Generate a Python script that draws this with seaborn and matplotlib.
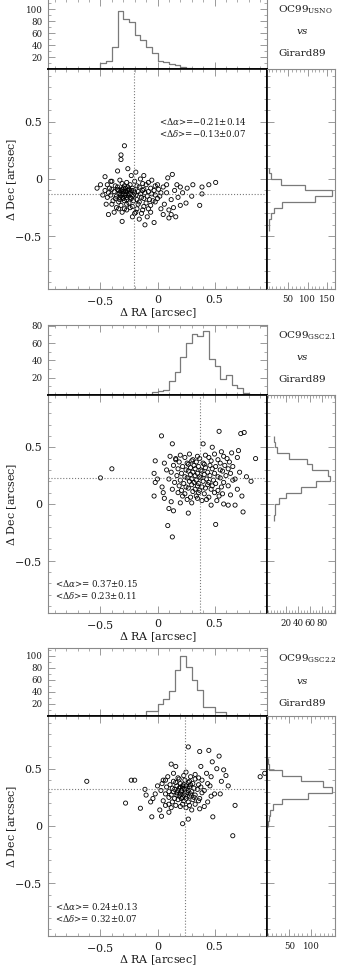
import matplotlib.pyplot as plt
import numpy as np
import seaborn as sns
from matplotlib.ticker import MultipleLocator, NullFormatter

# ---------------------------------------------------------------- data
# panel 1: OC99 (USNO) vs Girard89
usno_pts = [
    (-0.29, 0.29), (-0.32, 0.21), (-0.32, 0.17), (-0.35, 0.07), (-0.26, 0.09),
    (-0.19, 0.06), (-0.23, 0.03), (-0.12, 0.03), (0.09, 0.01), (0.13, 0.04),
    (0.51, -0.03), (0.45, -0.05), (0.39, -0.07), (0.31, -0.05), (0.20, -0.07),
    (0.39, -0.13), (0.30, -0.15), (0.25, -0.21), (0.37, -0.23), (0.20, -0.23),
    (0.16, -0.33), (0.10, -0.34), (0.12, -0.31), (-0.03, -0.38), (-0.11, -0.40),
    (-0.16, -0.35), (-0.22, -0.33), (-0.31, -0.37), (-0.43, -0.31), (-0.38, -0.29),
    (-0.45, -0.22), (-0.53, -0.08), (-0.50, -0.05), (-0.46, 0.02), (0.05, -0.07),
    (0.08, -0.12), (0.15, -0.10), (0.12, -0.18), (0.03, -0.26), (-0.06, -0.29),
    (0.06, -0.22), (0.17, -0.05), (0.22, -0.12), (0.10, -0.27), (-0.27, -0.27),
    (-0.34, -0.26), (-0.48, -0.14), (-0.41, -0.02), (-0.15, 0.00), (-0.08, -0.03),
    (0.00, -0.05), (0.02, -0.15), (-0.02, -0.20), (0.14, -0.25), (0.08, -0.05),
    (0.18, -0.16), (0.26, -0.08), (0.05, -0.31), (-0.09, -0.33), (-0.19, -0.29),
    (-0.40, -0.02), (-0.33, -0.01), (-0.27, -0.03), (-0.20, -0.02), (-0.13, -0.04),
    (-0.05, -0.01), (-0.44, -0.05), (-0.37, -0.06), (-0.31, -0.04), (-0.29, -0.06),
    (-0.24, -0.05), (-0.18, -0.06), (-0.10, -0.05), (-0.02, -0.06), (-0.42, -0.08),
    (-0.35, -0.07), (-0.30, -0.08), (-0.26, -0.07), (-0.22, -0.08), (-0.16, -0.07),
    (-0.12, -0.09), (-0.06, -0.08), (0.01, -0.09), (-0.46, -0.10), (-0.40, -0.09),
    (-0.34, -0.10), (-0.31, -0.09), (-0.28, -0.11), (-0.25, -0.09), (-0.21, -0.10),
    (-0.17, -0.11), (-0.13, -0.10), (-0.08, -0.11), (-0.03, -0.10), (-0.43, -0.12),
    (-0.38, -0.11), (-0.33, -0.12), (-0.30, -0.13), (-0.27, -0.12), (-0.24, -0.13),
    (-0.20, -0.12), (-0.15, -0.13), (-0.11, -0.12), (-0.05, -0.13), (0.03, -0.12),
    (-0.41, -0.14), (-0.36, -0.15), (-0.32, -0.14), (-0.29, -0.15), (-0.26, -0.14),
    (-0.22, -0.15), (-0.19, -0.14), (-0.14, -0.16), (-0.09, -0.15), (-0.02, -0.14),
    (-0.44, -0.16), (-0.37, -0.17), (-0.33, -0.16), (-0.30, -0.17), (-0.27, -0.16),
    (-0.23, -0.17), (-0.18, -0.18), (-0.12, -0.17), (-0.07, -0.18), (0.00, -0.17),
    (-0.39, -0.19), (-0.34, -0.20), (-0.29, -0.19), (-0.25, -0.21), (-0.21, -0.19),
    (-0.16, -0.20), (-0.10, -0.21), (-0.04, -0.19), (-0.40, -0.22), (-0.32, -0.23),
    (-0.27, -0.22), (-0.22, -0.24), (-0.17, -0.22), (-0.12, -0.24), (-0.06, -0.23),
    (-0.36, -0.25), (-0.29, -0.26), (-0.24, -0.25), (-0.18, -0.26), (-0.13, -0.27),
    (-0.08, -0.26), (-0.31, -0.29), (-0.20, -0.30), (-0.14, -0.30), (-0.32, -0.10),
    (-0.28, -0.14), (-0.30, -0.11), (-0.26, -0.10), (-0.34, -0.13), (-0.28, -0.08),
    (-0.31, -0.16), (-0.25, -0.12), (-0.23, -0.10), (-0.35, -0.09), (-0.29, -0.13),
    (-0.27, -0.18), (-0.33, -0.18), (-0.24, -0.16), (-0.21, -0.14),
]
usno_ra_edges = [-0.55, -0.50, -0.45, -0.40, -0.35, -0.30, -0.25, -0.20, -0.15, -0.10,
                 -0.05, 0.00, 0.05, 0.10, 0.15, 0.20, 0.25, 0.30, 0.35]
usno_ra_counts = [0, 10, 13, 36, 97, 83, 78, 57, 49, 36, 27, 14, 11, 8, 6, 3, 1, 0]
usno_dec_edges = [-0.45, -0.40, -0.35, -0.30, -0.25, -0.20, -0.15, -0.10, -0.05, 0.00,
                  0.05, 0.10]
usno_dec_counts = [0, 2, 7, 13, 35, 118, 162, 92, 31, 7, 0]
usno_mean = (-0.21, -0.13)
usno_stats = [r"<$\Delta\alpha$>=$-$0.21$\pm$0.14", r"<$\Delta\delta$>=$-$0.13$\pm$0.07"]

# panel 2: OC99 (GSC2.1) vs Girard89
gsc21_pts = [
    (-0.50, 0.23), (-0.40, 0.31), (0.035, 0.60), (0.13, 0.53), (-0.02, 0.38),
    (-0.03, 0.27), (-0.03, 0.07), (-0.02, 0.19), (0.09, -0.19), (0.13, -0.29),
    (0.10, -0.04), (0.14, -0.06), (0.27, -0.08), (0.51, -0.18), (0.54, 0.64),
    (0.73, 0.62), (0.76, 0.63), (0.86, 0.40), (0.82, 0.20), (0.75, -0.07),
    (0.74, 0.07), (0.71, 0.47), (0.68, -0.01), (0.62, -0.01), (0.58, 0.00),
    (0.40, 0.53), (0.48, 0.50), (0.56, 0.46), (0.65, 0.45), (0.70, 0.41),
    (0.66, 0.33), (0.72, 0.28), (0.68, 0.22), (0.78, 0.24), (0.70, 0.13),
    (0.64, 0.08), (0.05, 0.10), (0.04, 0.15), (0.00, 0.22), (0.08, 0.30),
    (0.06, 0.36), (0.11, 0.42), (0.16, 0.39), (0.12, 0.02), (0.20, 0.01),
    (0.30, 0.01), (0.39, 0.03), (0.47, -0.01), (0.52, 0.03), (0.06, 0.05),
    (0.20, 0.43), (0.28, 0.44), (0.35, 0.42), (0.42, 0.43), (0.50, 0.44),
    (0.58, 0.42), (0.16, 0.40), (0.24, 0.41), (0.31, 0.39), (0.37, 0.40),
    (0.45, 0.41), (0.53, 0.39), (0.61, 0.40), (0.19, 0.37), (0.26, 0.36),
    (0.30, 0.38), (0.34, 0.37), (0.40, 0.36), (0.47, 0.38), (0.55, 0.36),
    (0.63, 0.37), (0.14, 0.34), (0.22, 0.33), (0.27, 0.35), (0.32, 0.34),
    (0.36, 0.33), (0.41, 0.35), (0.46, 0.34), (0.51, 0.33), (0.59, 0.34),
    (0.18, 0.31), (0.25, 0.30), (0.29, 0.32), (0.33, 0.31), (0.38, 0.30),
    (0.42, 0.32), (0.48, 0.31), (0.55, 0.30), (0.62, 0.31), (0.12, 0.28),
    (0.21, 0.27), (0.27, 0.29), (0.31, 0.28), (0.35, 0.27), (0.39, 0.29),
    (0.44, 0.28), (0.50, 0.27), (0.57, 0.29), (0.64, 0.27), (0.17, 0.25),
    (0.24, 0.24), (0.29, 0.26), (0.33, 0.25), (0.37, 0.24), (0.41, 0.26),
    (0.46, 0.25), (0.53, 0.24), (0.60, 0.25), (0.10, 0.22), (0.20, 0.21),
    (0.26, 0.23), (0.30, 0.22), (0.34, 0.21), (0.38, 0.23), (0.43, 0.22),
    (0.49, 0.21), (0.55, 0.23), (0.66, 0.21), (0.15, 0.19), (0.23, 0.18),
    (0.28, 0.20), (0.32, 0.19), (0.36, 0.18), (0.40, 0.20), (0.45, 0.19),
    (0.51, 0.18), (0.58, 0.19), (0.19, 0.16), (0.25, 0.15), (0.30, 0.17),
    (0.35, 0.16), (0.39, 0.15), (0.44, 0.17), (0.48, 0.16), (0.56, 0.15),
    (0.62, 0.16), (0.13, 0.13), (0.21, 0.12), (0.27, 0.14), (0.33, 0.13),
    (0.37, 0.12), (0.42, 0.14), (0.47, 0.13), (0.53, 0.12), (0.18, 0.10),
    (0.24, 0.09), (0.31, 0.11), (0.36, 0.10), (0.41, 0.09), (0.50, 0.10),
    (0.57, 0.09), (0.22, 0.07), (0.29, 0.06), (0.34, 0.07), (0.45, 0.06),
    (0.54, 0.07), (0.26, 0.04), (0.35, 0.05), (0.43, 0.04),
]
gsc21_ra_edges = [-0.10, -0.05, 0.00, 0.05, 0.10, 0.15, 0.20, 0.25, 0.30, 0.35, 0.40,
                  0.45, 0.50, 0.55, 0.60, 0.65, 0.70, 0.75, 0.80, 0.85]
gsc21_ra_counts = [0, 3, 5, 6, 16, 27, 44, 60, 71, 68, 74, 42, 33, 19, 23, 12, 8, 2, 0]
gsc21_dec_edges = [-0.15, -0.10, -0.05, 0.00, 0.05, 0.10, 0.15, 0.20, 0.25, 0.30, 0.35,
                   0.40, 0.45, 0.50, 0.55, 0.60]
gsc21_dec_counts = [0, 1, 2, 8, 20, 45, 70, 92, 90, 62, 55, 25, 5, 2, 0]
gsc21_mean = (0.37, 0.23)
gsc21_stats = [r"<$\Delta\alpha$>= 0.37$\pm$0.15", r"<$\Delta\delta$>= 0.23$\pm$0.11"]

# panel 3: OC99 (GSC2.2) vs Girard89
gsc22_pts = [
    (-0.62, 0.39), (-0.28, 0.20), (-0.15, 0.155), (-0.05, 0.08), (0.035, 0.085),
    (-0.23, 0.40), (-0.20, 0.40), (0.22, 0.02), (0.27, 0.06), (0.27, 0.69),
    (0.37, 0.65), (0.45, 0.66), (0.54, 0.61), (0.66, -0.085), (0.68, 0.18),
    (0.485, 0.08), (0.90, 0.43), (0.94, 0.46), (0.12, 0.54), (0.16, 0.52),
    (0.38, 0.52), (0.48, 0.56), (0.52, 0.50), (0.58, 0.49), (0.60, 0.44),
    (0.56, 0.39), (0.62, 0.35), (0.55, 0.28), (0.47, 0.26), (0.41, 0.17),
    (0.37, 0.15), (0.30, 0.14), (0.12, 0.16), (0.07, 0.18), (-0.04, 0.24),
    (-0.06, 0.21), (-0.02, 0.28), (-0.10, 0.27), (-0.11, 0.32), (0.00, 0.35),
    (0.05, 0.40), (0.02, 0.14), (0.10, 0.12),
    (0.14, 0.46), (0.25, 0.47), (0.33, 0.45), (0.43, 0.46), (0.09, 0.43),
    (0.18, 0.42), (0.23, 0.44), (0.29, 0.43), (0.36, 0.42), (0.47, 0.43),
    (0.07, 0.40), (0.14, 0.39), (0.19, 0.41), (0.24, 0.40), (0.28, 0.39),
    (0.33, 0.41), (0.39, 0.40), (0.04, 0.37), (0.11, 0.36), (0.16, 0.38),
    (0.20, 0.37), (0.23, 0.36), (0.27, 0.38), (0.31, 0.37), (0.36, 0.36),
    (0.44, 0.37), (0.08, 0.34), (0.13, 0.33), (0.17, 0.35), (0.20, 0.34),
    (0.22, 0.33), (0.25, 0.35), (0.28, 0.34), (0.32, 0.33), (0.38, 0.34),
    (0.46, 0.35), (0.03, 0.31), (0.10, 0.30), (0.15, 0.32), (0.18, 0.31),
    (0.21, 0.30), (0.24, 0.32), (0.27, 0.31), (0.30, 0.30), (0.35, 0.32),
    (0.41, 0.31), (0.07, 0.28), (0.12, 0.27), (0.17, 0.29), (0.20, 0.28),
    (0.23, 0.27), (0.26, 0.29), (0.29, 0.28), (0.33, 0.27), (0.39, 0.29),
    (0.50, 0.28), (0.10, 0.25), (0.15, 0.24), (0.19, 0.26), (0.22, 0.25),
    (0.25, 0.24), (0.28, 0.26), (0.32, 0.25), (0.37, 0.24), (0.05, 0.22),
    (0.13, 0.21), (0.18, 0.23), (0.23, 0.22), (0.27, 0.21), (0.31, 0.23),
    (0.36, 0.22), (0.44, 0.21), (0.10, 0.19), (0.16, 0.18), (0.22, 0.19),
    (0.28, 0.18), (0.33, 0.19), (0.20, 0.17), (0.25, 0.16), (0.21, 0.31),
    (0.24, 0.29), (0.19, 0.33), (0.26, 0.33), (0.22, 0.35), (0.17, 0.27),
    (0.29, 0.36), (0.14, 0.30), (0.26, 0.26), (0.21, 0.24),
]
gsc22_ra_edges = [-0.15, -0.10, -0.05, 0.00, 0.05, 0.10, 0.15, 0.20, 0.25, 0.30, 0.35,
                  0.40, 0.45, 0.50, 0.55, 0.60, 0.65]
gsc22_ra_counts = [0, 9, 9, 20, 28, 42, 77, 100, 81, 60, 43, 15, 15, 7, 7, 0]
gsc22_dec_edges = [-0.01, 0.04, 0.09, 0.14, 0.19, 0.24, 0.29, 0.34, 0.39, 0.44, 0.49,
                   0.54, 0.59]
gsc22_dec_counts = [0, 2, 4, 12, 32, 94, 148, 129, 78, 32, 3, 0]
gsc22_mean = (0.24, 0.32)
gsc22_stats = [r"<$\Delta\alpha$>= 0.24$\pm$0.13", r"<$\Delta\delta$>= 0.32$\pm$0.07"]

source_names = [r"OC99$_{\rm USNO}$", r"OC99$_{\rm GSC2.1}$", r"OC99$_{\rm GSC2.2}$"]

# ---------------------------------------------------------------- style
sns.set_style("ticks")
plt.rcParams["font.family"] = ["DejaVu Serif"]
plt.rcParams["mathtext.fontset"] = "dejavuserif"

W, H = 341, 966
GREY = "#7a7a7a"
FRAME = "#8a8a8a"
INK = "#1a1a1a"

fig = plt.figure(figsize=(W / 100, H / 100), dpi=100)


def box(x0, y0, x1, y1):
    """pixel box (top-left origin) -> figure fraction rect"""
    return [x0 / W, 1 - y1 / H, (x1 - x0) / W, (y1 - y0) / H]


def frame(ax, labelsize):
    ax.tick_params(which="both", direction="in", top=True, right=True,
                   color=FRAME, labelcolor=INK, labelsize=labelsize, pad=4)
    ax.tick_params(which="major", length=5, width=0.6)
    ax.tick_params(which="minor", length=2.5, width=0.5)
    for sp in ax.spines.values():
        sp.set_color(FRAME)
        sp.set_linewidth(0.8)
    ax.set_xlabel("")
    ax.set_ylabel("")


def draw_panel(top, sc_top, sc_bot, pts, ra_edges, ra_counts, dec_edges,
               dec_counts, mean, stats, stats_at, name, top_ylim, top_ticks,
               rt_xlim, rt_ticks, rt_minor):
    ax_top = fig.add_axes(box(48, top, 267, sc_top))
    ax_sc = fig.add_axes(box(48, sc_top, 267, sc_bot))
    ax_rt = fig.add_axes(box(267, sc_top, 335, sc_bot))

    ra = [p[0] for p in pts]
    dec = [p[1] for p in pts]
    sns.scatterplot(x=ra, y=dec, ax=ax_sc, marker="o", s=9,
                    facecolor="none", edgecolor="black", linewidth=0.6)
    ax_sc.axvline(mean[0], color=GREY, ls=":", lw=0.8)
    ax_sc.axhline(mean[1], color=GREY, ls=":", lw=0.8)
    for i, line in enumerate(stats):
        ax_sc.text(stats_at[0], stats_at[1] - 0.105 * i, line, fontsize=6.2,
                   color=INK, va="center", ha="left")

    ra_mid = (np.array(ra_edges[:-1]) + np.array(ra_edges[1:])) / 2
    sns.histplot(x=ra_mid, weights=ra_counts, bins=ra_edges, element="step",
                 fill=False, color=GREY, linewidth=0.9, ax=ax_top)
    # right-hand Dec histogram, drawn sideways
    ax_rt.stairs(dec_counts, dec_edges, orientation="horizontal",
                 baseline=None, color=GREY, linewidth=0.9)

    for ax in (ax_top, ax_sc, ax_rt):
        frame(ax, 6.2)
    ax_sc.tick_params(labelsize=8)

    lim = (-0.96, 0.96)
    ax_sc.set_xlim(lim)
    ax_sc.set_ylim(lim)
    for ax in (ax_sc, ax_top):
        ax.xaxis.set_major_locator(MultipleLocator(0.5))
        ax.xaxis.set_minor_locator(MultipleLocator(0.1))
    for ax in (ax_sc, ax_rt):
        ax.yaxis.set_major_locator(MultipleLocator(0.5))
        ax.yaxis.set_minor_locator(MultipleLocator(0.1))
    ax_sc.set_xticks([-0.5, 0, 0.5], ["$-$0.5", "0", "0.5"])
    ax_sc.set_yticks([-0.5, 0, 0.5], ["$-$0.5", "0", "0.5"])

    ax_top.set_xlim(lim)
    ax_top.set_ylim(top_ylim)
    ax_top.xaxis.set_major_formatter(NullFormatter())
    ax_top.set_yticks(top_ticks)
    ax_top.yaxis.set_minor_locator(MultipleLocator(10))

    ax_rt.set_ylim(lim)
    ax_rt.set_xlim(rt_xlim)
    ax_rt.yaxis.set_major_formatter(NullFormatter())
    ax_rt.set_xticks(rt_ticks)
    ax_rt.xaxis.set_minor_locator(MultipleLocator(rt_minor))

    # the shared edges are drawn black
    ax_top.spines["bottom"].set_color("black")
    ax_top.spines["bottom"].set_linewidth(1.2)
    ax_sc.spines["top"].set_color("black")
    ax_sc.spines["top"].set_linewidth(1.2)
    ax_sc.spines["right"].set_color("black")
    ax_sc.spines["right"].set_linewidth(1.2)
    ax_rt.spines["left"].set_color("black")
    ax_rt.spines["left"].set_linewidth(1.2)

    # labels
    fig.text(157.5 / W, 1 - (sc_bot + 24) / H, r"$\Delta$ RA [arcsec]",
             fontsize=8, color=INK, ha="center", va="center")
    fig.text(12 / W, 1 - (sc_top + sc_bot) / 2 / H, r"$\Delta$ Dec [arcsec]",
             fontsize=8, color=INK, ha="center", va="center", rotation=90)
    fig.text(278 / W, 1 - (top + 11) / H, name, fontsize=7.5, color=INK,
             ha="left", va="center")
    fig.text(302 / W, 1 - (top + 33) / H, r"$vs$", fontsize=7.5, color=INK,
             ha="center", va="center")
    fig.text(278 / W, 1 - (top + 55) / H, "Girard89", fontsize=7.5, color=INK,
             ha="left", va="center")


draw_panel(-1, 69, 289, usno_pts, usno_ra_edges, usno_ra_counts,
           usno_dec_edges, usno_dec_counts, usno_mean, usno_stats,
           (0.01, 0.50), source_names[0], (0, 117), [20, 40, 60, 80, 100],
           (-4, 170), [50, 100, 150], 10)
draw_panel(325, 395, 613, gsc21_pts, gsc21_ra_edges, gsc21_ra_counts,
           gsc21_dec_edges, gsc21_dec_counts, gsc21_mean, gsc21_stats,
           (-0.90, -0.70), source_names[1], (0, 81), [20, 40, 60, 80],
           (-12, 101), [20, 40, 60, 80], 5)
draw_panel(648, 716, 936, gsc22_pts, gsc22_ra_edges, gsc22_ra_counts,
           gsc22_dec_edges, gsc22_dec_counts, gsc22_mean, gsc22_stats,
           (-0.90, -0.70), source_names[2], (0, 113), [20, 40, 60, 80, 100],
           (-2, 156), [50, 100], 10)

fig.savefig("out.png", dpi=100)
